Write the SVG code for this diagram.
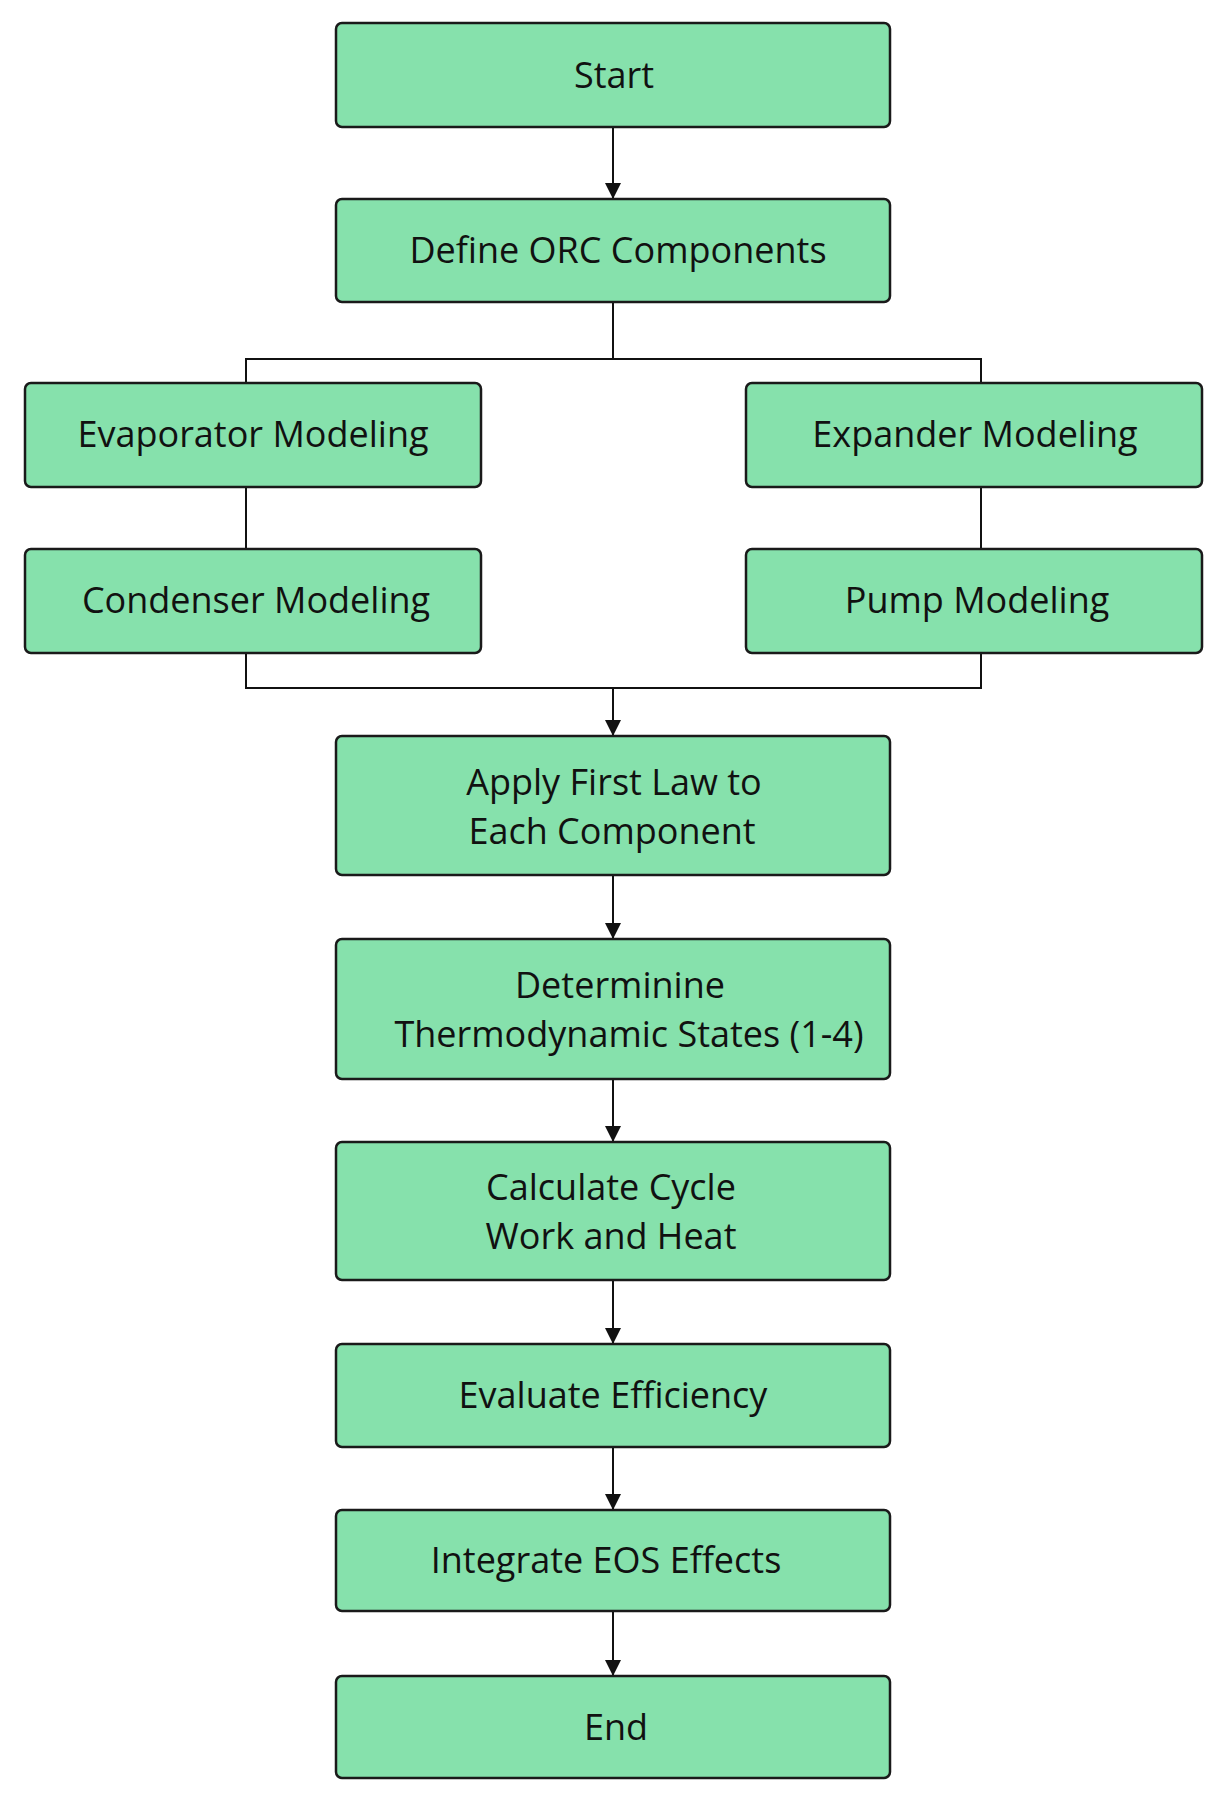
<svg xmlns="http://www.w3.org/2000/svg" width="1219" height="1807" viewBox="0 0 1219 1807">
<style>
.n rect{fill:#86e1ac;stroke:#1a1a1a;stroke-width:2.5}
.n text{font-family:"Open Sans",sans-serif;font-size:36px;fill:#111;text-anchor:middle}
.c{fill:none;stroke:#111;stroke-width:2}
</style>
<defs><marker id="a" viewBox="0 0 10 10" refX="10" refY="5" markerWidth="8" markerHeight="8" markerUnits="userSpaceOnUse" orient="auto"><path d="M0,0L10,5L0,10z" fill="#111"/></marker>
<marker id="b" viewBox="0 0 10 10" refX="10" refY="5" markerWidth="16" markerHeight="16" markerUnits="userSpaceOnUse" orient="auto"><path d="M0,0L10,5L0,10z" fill="#111"/></marker></defs>
<rect width="1219" height="1807" fill="#fff"/>
<g id="connectors">
<path class="c" d="M613,127V199" marker-end="url(#b)"/>
<path class="c" d="M613,302V359M246,383V359H981V383"/>
<path class="c" d="M246,487V549M981,487V549"/>
<path class="c" d="M246,653V688H981V653M613,688V736" marker-end="url(#b)"/>
<path class="c" d="M613,875V939" marker-end="url(#b)"/>
<path class="c" d="M613,1079V1142" marker-end="url(#b)"/>
<path class="c" d="M613,1280V1344" marker-end="url(#b)"/>
<path class="c" d="M613,1447V1510" marker-end="url(#b)"/>
<path class="c" d="M613,1611V1676" marker-end="url(#b)"/>
</g>
<g id="start" class="n"><rect x="336" y="23" width="554" height="104" rx="6"/><text x="614" y="88">Start</text></g>
<g id="define" class="n"><rect x="336" y="199" width="554" height="103" rx="6"/><text x="618" y="263">Define ORC Components</text></g>
<g id="evap" class="n"><rect x="25" y="383" width="456" height="104" rx="6"/><text x="253" y="447">Evaporator Modeling</text></g>
<g id="exp" class="n"><rect x="746" y="383" width="456" height="104" rx="6"/><text x="975" y="447">Expander Modeling</text></g>
<g id="cond" class="n"><rect x="25" y="549" width="456" height="104" rx="6"/><text x="256" y="613">Condenser Modeling</text></g>
<g id="pump" class="n"><rect x="746" y="549" width="456" height="104" rx="6"/><text x="977" y="613">Pump Modeling</text></g>
<g id="apply" class="n"><rect x="336" y="736" width="554" height="139" rx="6"/><text x="614" y="795">Apply First Law to</text><text x="612" y="844">Each Component</text></g>
<g id="determ" class="n"><rect x="336" y="939" width="554" height="140" rx="6"/><text x="620" y="998">Determinine</text><text x="629" y="1047">Thermodynamic States (1-4)</text></g>
<g id="calc" class="n"><rect x="336" y="1142" width="554" height="138" rx="6"/><text x="611" y="1200">Calculate Cycle</text><text x="611" y="1249">Work and Heat</text></g>
<g id="eval" class="n"><rect x="336" y="1344" width="554" height="103" rx="6"/><text x="613" y="1408">Evaluate Efficiency</text></g>
<g id="integ" class="n"><rect x="336" y="1510" width="554" height="101" rx="6"/><text x="606" y="1573">Integrate EOS Effects</text></g>
<g id="end" class="n"><rect x="336" y="1676" width="554" height="102" rx="6"/><text x="616" y="1740">End</text></g>
</svg>
